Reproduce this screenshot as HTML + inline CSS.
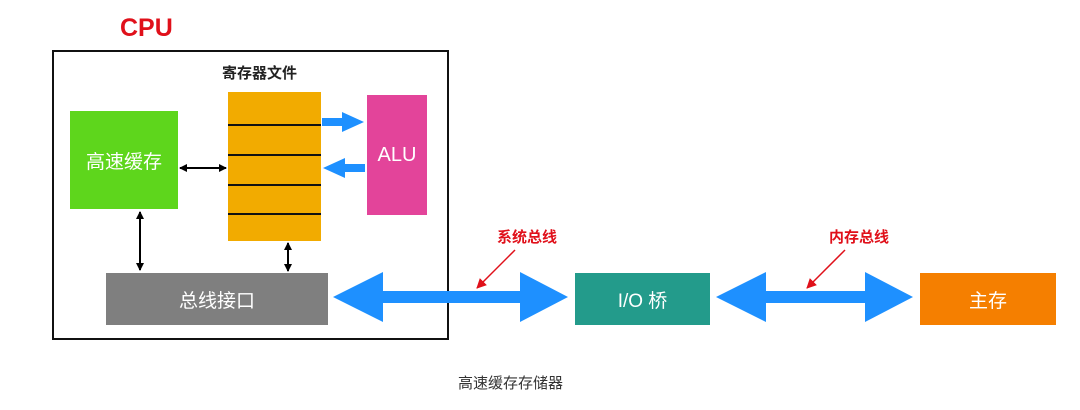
<!DOCTYPE html>
<html><head><meta charset="utf-8"><style>
body{margin:0;width:1080px;height:410px;background:#fff;overflow:hidden;font-family:"Liberation Sans","Noto Sans CJK SC",sans-serif;}
.a{position:absolute;}
.box{position:absolute;display:flex;align-items:center;justify-content:center;color:#fff;font-size:19px;}
</style></head><body>
<div class="a" style="left:120px;top:14px;font-size:25px;font-weight:bold;color:#e0101a;">CPU</div>
<div class="a" style="left:52px;top:50px;width:393px;height:286px;border:2px solid #111;"></div>
<div class="a" style="left:222px;top:62px;font-size:15px;font-weight:bold;color:#222;">寄存器文件</div>
<div class="box" style="left:70px;top:111px;width:108px;height:98px;background:#5ed61c;">高速缓存</div>
<div class="a" style="left:228px;top:92px;width:93px;height:149px;background:#f2ab00;"></div>
<div class="box" style="left:367px;top:95px;width:60px;height:120px;background:#e3449a;font-size:20px;">ALU</div>
<div class="box" style="left:106px;top:273px;width:222px;height:52px;background:#7f7f7f;">总线接口</div>
<div class="box" style="left:575px;top:273px;width:135px;height:52px;background:#239b8b;">I/O 桥</div>
<div class="box" style="left:920px;top:273px;width:136px;height:52px;background:#f57f00;">主存</div>
<div class="a" style="left:497px;top:226px;font-size:15px;font-weight:bold;color:#e0101a;">系统总线</div>
<div class="a" style="left:829px;top:226px;font-size:15px;font-weight:bold;color:#e0101a;">内存总线</div>
<div class="a" style="left:458px;top:372px;font-size:15px;color:#333;">高速缓存存储器</div>
<svg class="a" style="left:0;top:0" width="1080" height="410">
<defs>
<marker id="k" markerWidth="8" markerHeight="8" refX="7" refY="4" orient="auto-start-reverse" markerUnits="userSpaceOnUse"><path d="M0,0 L8,4 L0,8 Z" fill="#000"/></marker>
<marker id="r" markerWidth="10" markerHeight="10" refX="9" refY="5" orient="auto" markerUnits="userSpaceOnUse"><path d="M0,0 L10,5 L0,10 Z" fill="#e0101a"/></marker>
</defs>
<g stroke="#111" stroke-width="2">
<line x1="228" y1="125" x2="321" y2="125"/><line x1="228" y1="155" x2="321" y2="155"/>
<line x1="228" y1="185" x2="321" y2="185"/><line x1="228" y1="214" x2="321" y2="214"/>
</g>
<g stroke="#000" stroke-width="2" marker-start="url(#k)" marker-end="url(#k)">
<line x1="180" y1="168" x2="226" y2="168"/>
<line x1="140" y1="212" x2="140" y2="270"/>
<line x1="288" y1="243" x2="288" y2="271"/>
</g>
<path d="M322,118 h20 v-6 l22,10 l-22,10 v-6 h-20 Z" fill="#1e90ff"/>
<path d="M365,164 h-20 v-6 l-22,10 l22,10 v-6 h20 Z" fill="#1e90ff"/>
<path d="M333,297 L383,272 L383,291 L520,291 L520,272 L568,297 L520,322 L520,303 L383,303 L383,322 Z" fill="#1e90ff"/>
<path d="M716,297 L766,272 L766,291 L865,291 L865,272 L913,297 L865,322 L865,303 L766,303 L766,322 Z" fill="#1e90ff"/>
<line x1="515" y1="250" x2="477" y2="288" stroke="#e0101a" stroke-width="1.5" marker-end="url(#r)"/>
<line x1="845" y1="250" x2="807" y2="288" stroke="#e0101a" stroke-width="1.5" marker-end="url(#r)"/>
</svg>
</body></html>
